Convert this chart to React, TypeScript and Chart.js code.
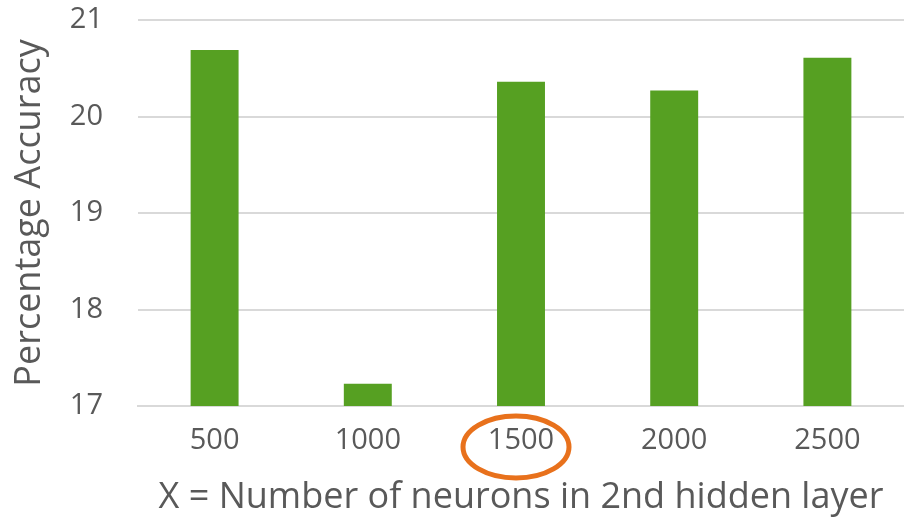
import React, { useEffect, useRef } from "react";
import { Chart, registerables } from "chart.js";

Chart.register(...registerables);

const categories = ["500", "1000", "1500", "2000", "2500"];
const accuracy = [20.69, 17.23, 20.36, 20.27, 20.61];
const yTicks = [17, 18, 19, 20, 21];
const highlightIndex = 2;

const FONT = "'Open Sans', sans-serif";
const TEXT = "#595959";

const ellipsePlugin = {
  id: "ellipseHighlight",
  afterDraw(chart: any) {
    const x = chart.scales.x;
    const ctx = chart.ctx;
    const cx = x.getPixelForValue(highlightIndex) - 5;
    const cy = x.top + 41;
    ctx.save();
    ctx.beginPath();
    ctx.ellipse(cx, cy, 53, 31, 0, 0, Math.PI * 2);
    ctx.lineWidth = 5;
    ctx.strokeStyle = "#E8711C";
    ctx.stroke();
    ctx.restore();
  },
};

export default function App() {
  const ref = useRef<HTMLCanvasElement>(null);
  useEffect(() => {
    document.body.style.margin = "0";
    const chart = new Chart(ref.current!, {
      type: "bar",
      data: {
        labels: categories,
        datasets: [
          {
            data: accuracy,
            backgroundColor: "#56A022",
            barPercentage: 0.313,
            categoryPercentage: 1,
          },
        ],
      },
      plugins: [ellipsePlugin],
      options: {
        animation: false,
        responsive: false,
        layout: { padding: { top: 20, right: 0, left: 0, bottom: 0 } },
        plugins: { legend: { display: false }, tooltip: { enabled: false } },
        scales: {
          x: {
            grid: { display: false, drawTicks: false },
            border: { display: true, color: "#D9D9D9", width: 2 },
            ticks: { color: TEXT, font: { family: FONT, size: 29 }, padding: 17 },
            title: {
              display: true,
              text: "X = Number of neurons in 2nd hidden layer",
              color: TEXT,
              font: { family: FONT, size: 36 },
              padding: { top: 0, bottom: 0 },
            },
            afterFit: (s: any) => {
              s.height = 113;
              s.paddingLeft = 0;
              s.paddingRight = 0;
            },
          },
          y: {
            min: 17,
            max: 21,
            afterBuildTicks: (s: any) => {
              s.ticks = yTicks.map((v) => ({ value: v }));
            },
            grid: { color: "#D9D9D9", lineWidth: 2, drawTicks: false },
            border: { display: false },
            ticks: { color: TEXT, font: { family: FONT, size: 29 }, padding: 35 },
            title: {
              display: true,
              text: "Percentage Accuracy",
              color: TEXT,
              font: { family: FONT, size: 36 },
              padding: { top: 8, bottom: 0 },
            },
            afterFit: (s: any) => {
              s.width = 138;
              s.paddingTop = 0;
              s.paddingBottom = 0;
            },
          },
        },
      },
    });
    return () => chart.destroy();
  }, []);
  return (
    <div style={{ position: "fixed", left: 0, top: 0, width: 904, height: 519, background: "#fff" }}>
      <canvas ref={ref} width={904} height={519} />
    </div>
  );
}
